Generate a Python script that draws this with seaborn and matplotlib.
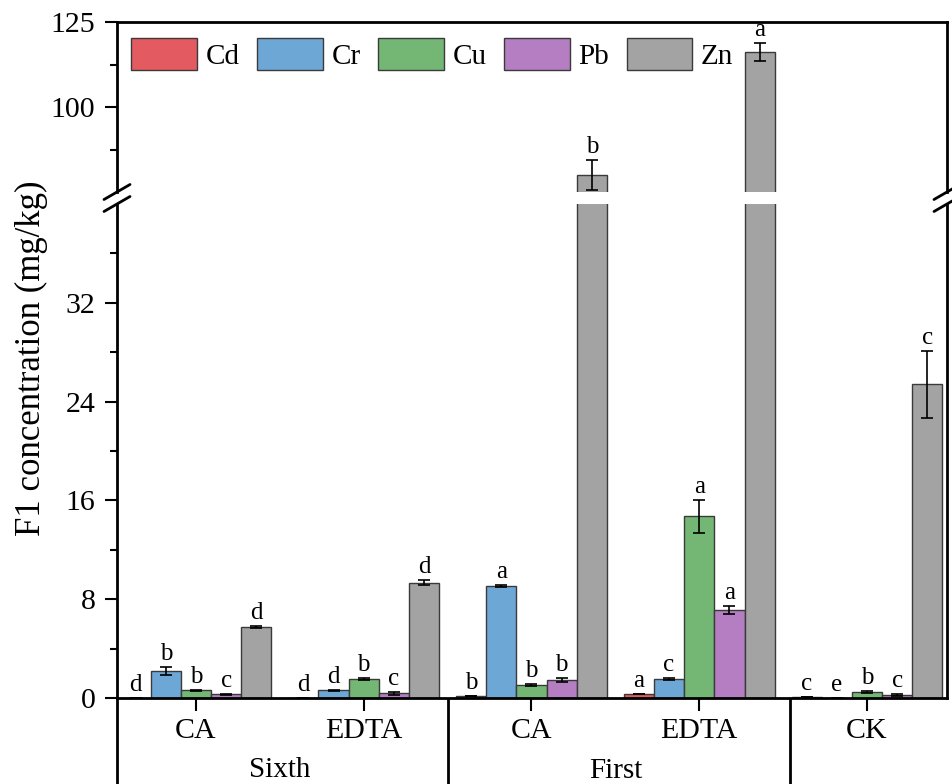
import numpy as np
import pandas as pd
import matplotlib
matplotlib.use("Agg")
import matplotlib.pyplot as plt
from matplotlib.ticker import FixedLocator
import seaborn as sns

# ---- data -------------------------------------------------------------
groups = ["Sixth-CA", "Sixth-EDTA", "First-CA", "First-EDTA", "CK"]
group_ticks = ["CA", "EDTA", "CA", "EDTA", "CK"]
metals = ["Cd", "Cr", "Cu", "Pb", "Zn"]

cd = [0.02, 0.02, 0.16, 0.32, 0.05]
cr = [2.20, 0.62, 9.08, 1.56, 0.01]
cu = [0.62, 1.53, 1.05, 14.70, 0.49]
pb = [0.30, 0.37, 1.45, 7.11, 0.25]
zn = [5.76, 9.35, 80.0, 116.1, 25.4]

cd_err = [0.005, 0.005, 0.02, 0.03, 0.005]
cr_err = [0.30, 0.06, 0.08, 0.08, 0.005]
cu_err = [0.06, 0.05, 0.10, 1.35, 0.05]
pb_err = [0.04, 0.10, 0.15, 0.30, 0.08]
zn_err = [0.08, 0.20, 4.3, 2.6, 2.7]

cd_sig = ["d", "d", "b", "a", "c"]
cr_sig = ["b", "d", "a", "c", "e"]
cu_sig = ["b", "b", "b", "a", "b"]
pb_sig = ["c", "c", "b", "a", "c"]
zn_sig = ["d", "d", "b", "a", "c"]

colors = ["#E35A61", "#6DA7D6", "#74B775", "#B57DC2", "#A3A3A3"]

values = [cd, cr, cu, pb, zn]
errors = [cd_err, cr_err, cu_err, pb_err, zn_err]
letters = [cd_sig, cr_sig, cu_sig, pb_sig, zn_sig]

df = pd.DataFrame({
    "group": np.repeat([groups], len(metals), axis=0).ravel(),
    "metal": np.repeat(metals, len(groups)),
    "value": np.concatenate(values),
})

# ---- style ------------------------------------------------------------
sns.set_style("ticks")
plt.rcParams["font.family"] = ["Liberation Serif", "DejaVu Serif"]
plt.rcParams["axes.linewidth"] = 2.0
for key in ("text.color", "axes.labelcolor", "axes.edgecolor",
            "xtick.color", "ytick.color"):
    plt.rcParams[key] = "black"

W, H = 952, 784
fig = plt.figure(figsize=(W / 100, H / 100), dpi=100)

left, right = 117 / W, 947 / W
ax_lo = fig.add_axes([left, 1 - 698 / H, right - left, (698 - 204) / H])
ax_hi = fig.add_axes([left, 1 - 192 / H, right - left, (192 - 22) / H])

xlim = (-0.471, 4.477)

for ax in (ax_lo, ax_hi):
    sns.barplot(data=df, x="group", y="value", hue="metal", order=groups,
                hue_order=metals, palette=colors, saturation=1, width=0.9,
                edgecolor="#3a3a3a", linewidth=1.0, errorbar=None,
                legend=False, ax=ax)
    ax.set_xlim(*xlim)
    ax.set_xlabel("")
    ax.set_ylabel("")
    ax.tick_params(axis="y", which="major", direction="out", length=8.5,
                   width=1.5, labelsize=21.5, pad=7)
    ax.tick_params(axis="y", which="minor", direction="out", length=5,
                   width=1.5)

ax_lo.set_ylim(0, 40)
ax_lo.set_yticks([0, 8, 16, 24, 32])
ax_lo.yaxis.set_minor_locator(FixedLocator([4, 12, 20, 28, 36]))
ax_lo.spines["top"].set_visible(False)
ax_lo.set_xticks(range(len(groups)))
ax_lo.set_xticklabels(group_ticks, fontsize=21.5)
ax_lo.tick_params(axis="x", direction="out", length=9.5, width=1.5, pad=5)

ax_hi.set_ylim(75, 125)
ax_hi.set_yticks([100, 125])
ax_hi.yaxis.set_minor_locator(FixedLocator([87.5, 112.5]))
ax_hi.spines["bottom"].set_visible(False)
ax_hi.set_xticks([])

# ---- error bars and significance letters ------------------------------
for i in range(len(metals)):
    bars = ax_lo.containers[i]
    xs = [p.get_x() + p.get_width() / 2 for p in bars]
    for ax in (ax_lo, ax_hi):
        ax.errorbar(xs, values[i], yerr=errors[i], fmt="none", ecolor="black",
                    elinewidth=1.2, capsize=4.5, capthick=1.2, zorder=5)
    for x, v, e, s in zip(xs, values[i], errors[i], letters[i]):
        top = v + e
        target = ax_hi if top > 40 else ax_lo
        target.annotate(s, xy=(x, top), xytext=(0, 1.5),
                        textcoords="offset points", ha="center", va="bottom",
                        fontsize=18, annotation_clip=False)

# ---- legend -----------------------------------------------------------
handles = [plt.Rectangle((0, 0), 1, 1, facecolor=c, edgecolor="#3a3a3a",
                         linewidth=1.0) for c in colors]
ax_hi.legend(handles, metals, loc="upper left", ncol=5, frameon=False,
             bbox_to_anchor=(0.017, 0.906), borderaxespad=0, borderpad=0,
             fontsize=21, handlelength=2.25, handleheight=1.3,
             handletextpad=0.3, columnspacing=0.6)

# ---- axis label -------------------------------------------------------
fig.text(31 / W, 1 - 358 / H, "F1 concentration (mg/kg)", rotation=90,
         ha="center", va="center", fontsize=25)

# ---- grouping lines and second-level labels below the axis ------------
trans = ax_lo.get_xaxis_transform()
for xv in (xlim[0], 1.5, 3.54):
    ax_lo.plot([xv, xv], [0, -0.2], transform=trans, color="black",
               linewidth=2.0, clip_on=False, solid_capstyle="butt")
ax_lo.text(0.5, -0.146, "Sixth", transform=trans, ha="center", va="center",
           fontsize=21)
ax_lo.text(2.5, -0.148, "First", transform=trans, ha="center", va="center",
           fontsize=21)

# ---- break marks on both vertical spines ------------------------------
dx, dy = 13 / W, 7.5 / H
for xs in (left, right):
    for yc in (1 - 192 / H, 1 - 204 / H):
        fig.add_artist(plt.Line2D([xs - dx, xs + dx], [yc - dy, yc + dy],
                                  transform=fig.transFigure, color="black",
                                  linewidth=2.0))

fig.savefig("out.png", dpi=100, facecolor="white")
